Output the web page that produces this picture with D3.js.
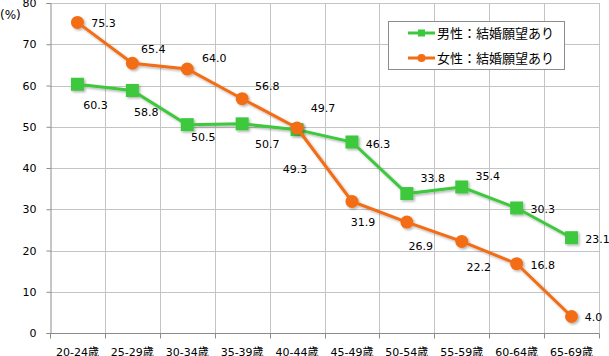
<!DOCTYPE html>
<html><head><meta charset="utf-8">
<script src="https://cdn.jsdelivr.net/npm/d3@7/dist/d3.min.js"></script>
<style>
body{margin:0;background:#fff;}
svg{display:block;font-family:"DejaVu Sans","Noto Sans CJK JP",sans-serif;}
</style></head>
<body><svg id="c" width="609" height="356"></svg>
<script>
const categories = ["20-24歳","25-29歳","30-34歳","35-39歳","40-44歳","45-49歳","50-54歳","55-59歳","60-64歳","65-69歳"];
const maleValues = [60.3,58.8,50.5,50.7,49.3,46.3,33.8,35.4,30.3,23.1];
const femaleValues = [75.3,65.4,64.0,56.8,49.7,31.9,26.9,22.2,16.8,4.0];
const seriesNames = ["男性：結婚願望あり","女性：結婚願望あり"];
const yTicks = [0,10,20,30,40,50,60,70,80];
// label offsets (px) relative to each point
const maleLabelOffsets = [[18,21],[14,22],[16,12],[25,20],[-2,39],[26,2],[26,-16],[26,-11],[26,1],[26,1]];
const femaleLabelOffsets = [[26,1],[21,-14],[27,-11],[25,-13],[26,-20],[11,21],[14,24],[17,26],[26,1],[22,0]];

const svg = d3.select("#c");
const L=50, R=599, T=3, B=333;
const x = d3.scaleBand().domain(categories).range([L,R]).padding(0);
const y = d3.scaleLinear().domain([0,80]).range([B,T]);
const gridColor="#c4c4c4", axisColor="#8c8c8c";

const defs = svg.append("defs");
const f = defs.append("filter").attr("id","sh").attr("x","-20%").attr("y","-20%").attr("width","150%").attr("height","150%");
f.append("feDropShadow").attr("dx",1.5).attr("dy",1.5).attr("stdDeviation",1.2).attr("flood-color","#000").attr("flood-opacity",0.3);

// horizontal grid
svg.append("g").selectAll("line").data(yTicks.filter(d=>d>0)).join("line")
  .attr("x1",L).attr("x2",R).attr("y1",d=>Math.round(y(d))+0.5).attr("y2",d=>Math.round(y(d))+0.5)
  .attr("stroke",gridColor).attr("stroke-width",1);
// vertical grid
const bounds = categories.map(c=>x(c)).concat([R]);
svg.append("g").selectAll("line").data(bounds.slice(1)).join("line")
  .attr("x1",d=>Math.round(d)+0.5).attr("x2",d=>Math.round(d)+0.5).attr("y1",T).attr("y2",B)
  .attr("stroke",gridColor).attr("stroke-width",1);

// y axis
const yAxis = svg.append("g").attr("transform",`translate(${L+0.5},0)`)
  .call(d3.axisLeft(y).tickValues(yTicks).tickSize(4).tickPadding(10).tickFormat(d3.format("d")));
yAxis.select(".domain").attr("stroke",axisColor);
yAxis.selectAll(".tick line").attr("stroke",axisColor);
yAxis.selectAll(".tick text").attr("font-size",11).attr("fill","#000")
  .attr("font-family","\"DejaVu Sans\",sans-serif");

// x axis
const xg = svg.append("g").attr("transform",`translate(0,${B+0.5})`);
xg.append("line").attr("x1",L).attr("x2",R+0.5).attr("stroke",axisColor);
xg.selectAll("line.t").data(bounds).join("line").attr("class","t")
  .attr("x1",d=>Math.round(d)+0.5).attr("x2",d=>Math.round(d)+0.5).attr("y1",0).attr("y2",5).attr("stroke",axisColor);
xg.selectAll("text").data(categories).join("text")
  .attr("x",d=>x(d)+x.bandwidth()/2).attr("y",22)
  .attr("text-anchor","middle").attr("font-size",11).attr("fill","#000").text(d=>d);

svg.append("text").attr("x",0).attr("y",19).attr("font-size",12).text("(%)");

const green="#3cc83c", orange="#f26d14";
const line = d3.line().x((d,i)=>x(categories[i])+x.bandwidth()/2).y(d=>y(d));

function drawSeries(vals, color, shape, offs){
  const g = svg.append("g").attr("filter","url(#sh)");
  g.append("path").datum(vals).attr("d",line).attr("fill","none").attr("stroke",color).attr("stroke-width",3);
  const cx=(i)=>x(categories[i])+x.bandwidth()/2;
  if(shape==="square"){
    g.selectAll("rect").data(vals).join("rect")
      .attr("x",(d,i)=>cx(i)-6.5).attr("y",d=>y(d)-6.5).attr("width",13).attr("height",13).attr("fill",color);
  } else {
    g.selectAll("circle").data(vals).join("circle")
      .attr("cx",(d,i)=>cx(i)).attr("cy",d=>y(d)).attr("r",6.5).attr("fill",color);
  }
  svg.append("g").selectAll("text").data(vals).join("text")
    .attr("x",(d,i)=>cx(i)+offs[i][0]).attr("y",(d,i)=>y(d)+offs[i][1]+4)
    .attr("text-anchor","middle").attr("font-size",11).attr("fill","#000")
    .text(d=>d.toFixed(1));
}
drawSeries(maleValues, green, "square", maleLabelOffsets);
drawSeries(femaleValues, orange, "circle", femaleLabelOffsets);

// legend
const lg = svg.append("g");
lg.append("rect").attr("x",388.5).attr("y",21.5).attr("width",176).attr("height",48)
  .attr("fill","#fff").attr("stroke","#8c8c8c");
[[green,"square",33],[orange,"circle",58]].forEach((s,k)=>{
  lg.append("line").attr("x1",408).attr("x2",435).attr("y1",s[2]).attr("y2",s[2]).attr("stroke",s[0]).attr("stroke-width",3);
  if(s[1]==="square") lg.append("rect").attr("x",418).attr("y",s[2]-3.5).attr("width",7).attr("height",7).attr("fill",s[0]);
  else lg.append("circle").attr("cx",421.5).attr("cy",s[2]).attr("r",4).attr("fill",s[0]);
  lg.append("text").attr("x",437).attr("y",s[2]+5).attr("font-size",13)
    .attr("font-family","\"Noto Sans CJK JP\",sans-serif").text(seriesNames[k]);
});
</script></body></html>
